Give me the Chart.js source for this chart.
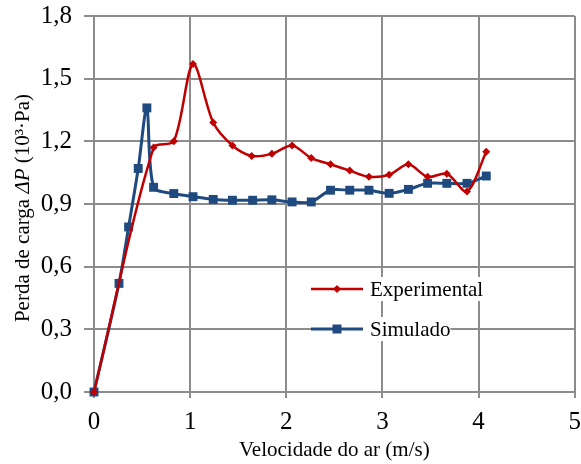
<!DOCTYPE html>
<html>
<head>
<meta charset="utf-8">
<script src="https://cdn.jsdelivr.net/npm/chart.js@4/dist/chart.umd.min.js"></script>
<style>
  html, body { margin: 0; padding: 0; background: #fff; }
  #wrap { width: 581px; height: 464px; position: relative; }
</style>
</head>
<body>
<div id="wrap"><canvas id="grafico"></canvas></div>
<script>
// dados
const velExp   = [0, 0.62, 0.83, 1.03, 1.24, 1.44, 1.64, 1.85, 2.06, 2.26, 2.46, 2.66, 2.86, 3.07, 3.27, 3.47, 3.67, 3.88, 4.08];
const perdaExp = [0, 1.17, 1.20, 1.57, 1.29, 1.18, 1.13, 1.14, 1.18, 1.12, 1.09, 1.06, 1.03, 1.04, 1.09, 1.03, 1.045, 0.96, 1.15];

const velSim   = [0, 0.26, 0.36, 0.46, 0.55, 0.62, 0.83, 1.03, 1.24, 1.44, 1.65, 1.85, 2.06, 2.26, 2.46, 2.66, 2.86, 3.07, 3.27, 3.47, 3.67, 3.88, 4.08];
const perdaSim = [0, 0.52, 0.79, 1.07, 1.36, 0.98, 0.95, 0.935, 0.922, 0.918, 0.918, 0.92, 0.91, 0.91, 0.966, 0.966, 0.966, 0.951, 0.97, 0.999, 0.999, 0.999, 1.034];

const xTicks = [0, 1, 2, 3, 4, 5];
const yTicks = [0, 0.3, 0.6, 0.9, 1.2, 1.5, 1.8];

const serieNomes = ['Experimental', 'Simulado'];
const vermelho = '#c00000';
const azul = '#1f4a80';
const grade = '#8c8c8c';
const fonte = "'Liberation Serif', 'Times New Roman', serif";

function pares(xs, ys) {
  return xs.map((v, i) => ({ x: v, y: ys[i] }));
}

// titulo do eixo y (com ΔP em itálico) e legenda dentro da área
const decoPlugin = {
  id: 'deco',
  afterDatasetsDraw(chart) {
    const ctx = chart.ctx, a = chart.chartArea;

    // titulo y
    const partes = [
      ['Perda de carga ', 'normal'],
      ['ΔP', 'italic'],
      [' (10³·Pa)', 'normal']
    ];
    ctx.save();
    ctx.fillStyle = '#000';
    ctx.textBaseline = 'middle';
    ctx.textAlign = 'left';
    let total = 0;
    partes.forEach(p => {
      ctx.font = p[1] + ' 21px ' + fonte;
      total += ctx.measureText(p[0]).width;
    });
    ctx.translate(23, (a.top + a.bottom) / 2 + 4);
    ctx.rotate(-Math.PI / 2);
    let px = -total / 2;
    partes.forEach(p => {
      ctx.font = p[1] + ' 21px ' + fonte;
      ctx.fillText(p[0], px, 0);
      px += ctx.measureText(p[0]).width;
    });
    ctx.restore();

    // legenda
    const cores = [vermelho, azul];
    const lx = a.left + 217;
    ctx.save();
    ctx.font = '21px ' + fonte;
    ctx.textBaseline = 'middle';
    serieNomes.forEach((nome, i) => {
      const ly = a.top + 273 + i * 40;
      const tw = ctx.measureText(nome).width;
      ctx.fillStyle = '#fff';
      ctx.fillRect(lx, ly - 12, 59 + tw, 24);
      ctx.strokeStyle = cores[i];
      ctx.lineWidth = i === 0 ? 2.5 : 3;
      ctx.beginPath();
      ctx.moveTo(lx, ly);
      ctx.lineTo(lx + 52, ly);
      ctx.stroke();
      ctx.fillStyle = cores[i];
      if (i === 0) {
        ctx.beginPath();
        ctx.moveTo(lx + 26, ly - 4);
        ctx.lineTo(lx + 30, ly);
        ctx.lineTo(lx + 26, ly + 4);
        ctx.lineTo(lx + 22, ly);
        ctx.closePath();
        ctx.fill();
      } else {
        ctx.fillRect(lx + 21.5, ly - 4.5, 9, 9);
      }
      ctx.fillStyle = '#000';
      ctx.fillText(nome, lx + 59, ly + 1);
    });
    ctx.restore();
  }
};

const ctx = document.getElementById('grafico');

new Chart(ctx, {
  type: 'line',
  data: {
    datasets: [{
      label: serieNomes[0],
      data: pares(velExp, perdaExp),
      borderColor: vermelho,
      backgroundColor: vermelho,
      borderWidth: 2.5,
      pointStyle: 'rectRot',
      pointRadius: 4,
      pointBorderWidth: 0,
      tension: 0.3,
      clip: false
    }, {
      label: serieNomes[1],
      data: pares(velSim, perdaSim),
      borderColor: azul,
      backgroundColor: azul,
      borderWidth: 3,
      pointStyle: 'rect',
      pointRadius: 6.3,
      pointBorderWidth: 0,
      tension: 0.3,
      clip: false
    }]
  },
  options: {
    responsive: true,
    maintainAspectRatio: false,
    animation: false,
    layout: { padding: { top: 16, right: 6, left: 0, bottom: 0 } },
    plugins: {
      legend: { display: false },
      tooltip: { enabled: false }
    },
    scales: {
      x: {
        type: 'linear',
        min: 0,
        max: 5,
        afterBuildTicks: s => { s.ticks = xTicks.map(v => ({ value: v })); },
        afterFit: s => {
          s.height = 72;
          s.paddingLeft = 0;
          s.paddingRight = 0;
        },
        ticks: {
          color: '#000',
          font: { family: fonte, size: 25 },
          padding: 9,
          maxRotation: 0
        },
        grid: { color: grade, lineWidth: 2, tickLength: 6, tickColor: grade },
        border: { color: grade, width: 2 },
        title: {
          display: true,
          text: 'Velocidade do ar (m/s)',
          color: '#000',
          font: { family: fonte, size: 21 },
          padding: { top: 0, bottom: 1 }
        }
      },
      y: {
        type: 'linear',
        min: 0,
        max: 1.8,
        afterBuildTicks: s => { s.ticks = yTicks.map(v => ({ value: v })); },
        afterFit: s => {
          s.width = 94;
          s.paddingTop = 0;
          s.paddingBottom = 0;
        },
        ticks: {
          color: '#000',
          font: { family: fonte, size: 25 },
          padding: 12,
          callback: v => Number(v).toFixed(1).replace('.', ',')
        },
        grid: { color: grade, lineWidth: 2, tickLength: 10, tickColor: grade },
        border: { color: grade, width: 2 }
      }
    }
  },
  plugins: [decoPlugin]
});
</script>
</body>
</html>
